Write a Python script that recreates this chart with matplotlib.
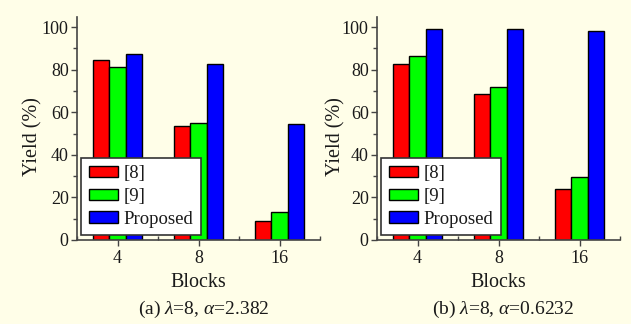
import matplotlib
matplotlib.use("Agg")
import matplotlib.pyplot as plt
import numpy as np

blocks = ["4", "8", "16"]
methods = ["[8]", "[9]", "Proposed"]
colors = ["#ff0000", "#00ff00", "#0000ff"]

# yield (%) for each method, per block count
yield_a = {"[8]": [84.5, 53.7, 8.9],
           "[9]": [81.4, 54.9, 13.0],
           "Proposed": [87.2, 82.5, 54.5]}
yield_b = {"[8]": [82.5, 68.7, 24.0],
           "[9]": [86.4, 72.0, 29.7],
           "Proposed": [99.0, 99.0, 98.3]}

captions = [r"(a) $\lambda$=8, $\alpha$=2.382",
            r"(b) $\lambda$=8, $\alpha$=0.6232"]

plt.rcParams["font.family"] = ["Liberation Serif", "DejaVu Serif"]
plt.rcParams["mathtext.fontset"] = "custom"
plt.rcParams["mathtext.rm"] = "Liberation Serif"
plt.rcParams["mathtext.it"] = "Liberation Serif:italic"

bg = "#fffee8"
ink = "#1a1a1a"
axcol = "#444444"

fig = plt.figure(figsize=(6.31, 3.24), dpi=100, facecolor=bg)

x = np.arange(len(blocks))
width = 0.205

for k, (data, cap) in enumerate(zip([yield_a, yield_b], captions)):
    left = [77 / 631, 377 / 631][k]
    ax = fig.add_axes([left, 84 / 324, 243 / 631, 223 / 324])
    ax.set_facecolor(bg)
    for i, m in enumerate(methods):
        ax.bar(x + (i - 1) * width, data[m], width, color=colors[i],
               edgecolor="black", linewidth=1.0, label=m, zorder=2)
    ax.set_xlim(-0.5, 2.5)
    ax.set_ylim(0, 104.7)
    ax.set_xticks(x)
    ax.set_xticklabels(blocks)
    ax.set_xticks([-0.5, 0.5, 1.5, 2.5], minor=True)
    ax.set_yticks(np.arange(0, 101, 20))
    ax.set_yticks(np.arange(10, 100, 20), minor=True)
    for s in ["top", "right"]:
        ax.spines[s].set_visible(False)
    for s in ["left", "bottom"]:
        ax.spines[s].set_color(axcol)
        ax.spines[s].set_linewidth(1.2)
    ax.tick_params(axis="both", which="major", direction="out", length=4,
                   width=1.0, color=axcol, labelsize=13, labelcolor=ink, pad=2)
    ax.tick_params(axis="x", which="major", pad=3.5)
    ax.tick_params(axis="y", which="minor", direction="out", length=3,
                   width=1.0, color=axcol)
    ax.tick_params(axis="x", which="minor", direction="in", length=3,
                   width=1.0, color=axcol)
    ax.set_xlabel("Blocks", fontsize=14.5, color=ink, labelpad=4)
    ax.set_ylabel("Yield (%)", fontsize=14.5, color=ink)
    ax.yaxis.set_label_coords([-0.144, -0.128][k], 0.465)
    ax.text(0.52, -0.265, cap, transform=ax.transAxes, ha="center", va="top",
            fontsize=14, color=ink)
    leg = ax.legend(loc="lower left", bbox_to_anchor=(0.018, 0.022),
                    borderaxespad=0, fontsize=13.5, fancybox=False,
                    framealpha=1, edgecolor="#333333", handlelength=1.55,
                    handleheight=0.55, handletextpad=0.3, labelspacing=0.3,
                    borderpad=0.4)
    leg.get_frame().set_linewidth(1.2)
    leg.set_zorder(5)
    for t in leg.get_texts():
        t.set_color(ink)

fig.savefig("out.png", dpi=100, facecolor=bg)
